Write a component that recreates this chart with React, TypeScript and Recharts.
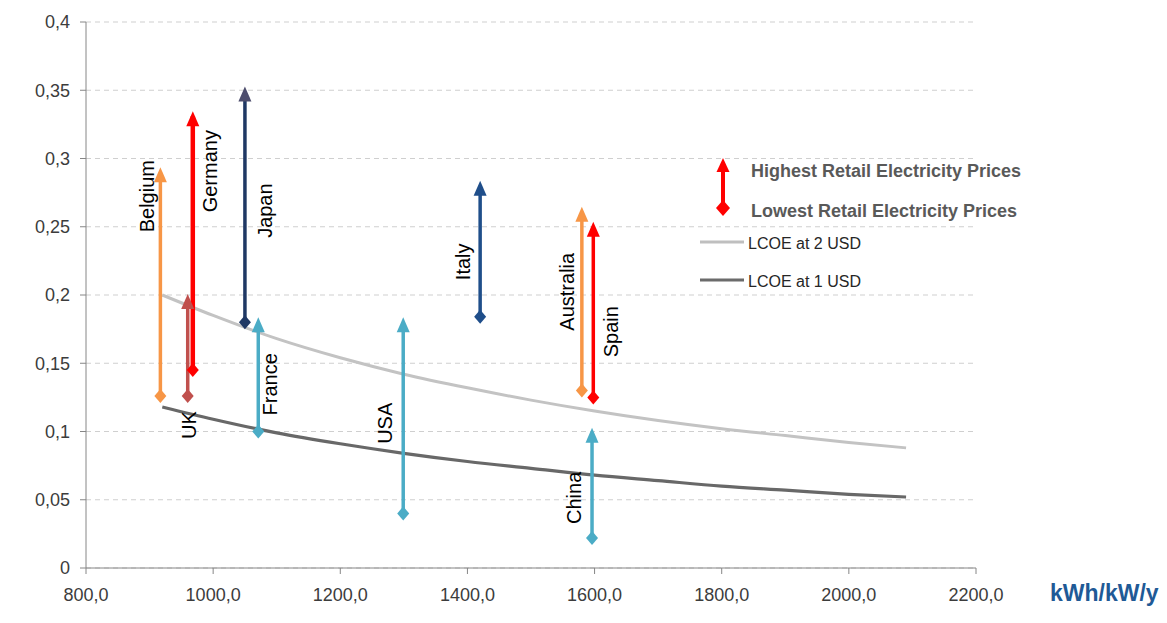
import { ComposedChart, Line, XAxis, YAxis, CartesianGrid, Legend, Label } from "recharts";

const xTicks = [800, 1000, 1200, 1400, 1600, 1800, 2000, 2200];
const yTicks = [0, 0.05, 0.1, 0.15, 0.2, 0.25, 0.3, 0.35, 0.4];

// LCOE curves (USD/kWh) against yield (kWh/kW/y)
const curveYield = [920, 1000, 1100, 1200, 1300, 1400, 1500, 1600, 1700, 1800, 1900, 2000, 2090];
const lcoe2Usd = [0.2, 0.185, 0.168, 0.154, 0.142, 0.132, 0.123, 0.115, 0.108, 0.102, 0.097, 0.092, 0.088];
const lcoe1Usd = [0.118, 0.109, 0.099, 0.091, 0.084, 0.078, 0.073, 0.068, 0.064, 0.06, 0.057, 0.054, 0.052];

// retail electricity price ranges per country
const countries = ["Belgium", "UK", "Germany", "Japan", "France", "USA", "Italy", "Australia", "Spain", "China"];
const countryYield = [917, 960, 968, 1050, 1071, 1299, 1420, 1580, 1598, 1596];
const lowestPrice = [0.126, 0.126, 0.145, 0.18, 0.1, 0.04, 0.184, 0.13, 0.125, 0.022];
const highestPrice = [0.29, 0.197, 0.331, 0.349, 0.18, 0.18, 0.28, 0.261, 0.25, 0.099];

const ORANGE = "#f79646";
const RED = "#ff0000";
const TEAL = "#4bacc6";

// look of each arrow: colour, head colour, label offset (px) from the top end
const arrowStyle: Record<string, { color: string; head?: string; dx: number; dy: number }> = {
  Belgium: { color: ORANGE, dx: -13, dy: 24 },
  UK: { color: "#c0504d", dx: 1, dy: 126 },
  Germany: { color: RED, dx: 17, dy: 55 },
  Japan: { color: "#1f3864", head: "#4d4d6d", dx: 20, dy: 119 },
  France: { color: TEAL, dx: 12, dy: 62 },
  USA: { color: TEAL, dx: -18, dy: 101 },
  Italy: { color: "#1f4e8a", dx: -17, dy: 76 },
  Australia: { color: ORANGE, dx: -15, dy: 80 },
  Spain: { color: RED, dx: 18, dy: 105 },
  China: { color: TEAL, dx: -18, dy: 65 },
};

const FONT = '"Liberation Sans", Arial, sans-serif';

const fmtX = (v: number) => v.toFixed(1).replace(".", ",");
const fmtY = (v: number) => (v === 0 ? "0" : String(Number(v.toFixed(2))).replace(".", ","));

function arrowDot(name: string) {
  const st = arrowStyle[name];
  return (props: any) => {
    const { cx, cy, index } = props;
    if (cx == null || cy == null) return <g key={`${name}-${index}`} />;
    if (index === 0) {
      return (
        <polygon
          key={`${name}-low`}
          points={`${cx},${cy - 7} ${cx + 6},${cy} ${cx},${cy + 7} ${cx - 6},${cy}`}
          fill={st.color}
        />
      );
    }
    const lx = cx + st.dx;
    const ly = cy + st.dy;
    return (
      <g key={`${name}-high`}>
        <polygon
          points={`${cx},${cy - 5} ${cx + 6.5},${cy + 10} ${cx - 6.5},${cy + 10}`}
          fill={st.head || st.color}
        />
        <text
          x={lx}
          y={ly}
          transform={`rotate(-90, ${lx}, ${ly})`}
          textAnchor="middle"
          dominantBaseline="central"
          fontFamily={FONT}
          fontSize={20}
          fill="#000"
        >
          {name}
        </text>
      </g>
    );
  };
}

function PriceLegend() {
  return (
    <svg width={340} height={140} style={{ display: "block", overflow: "visible" }}>
      <line x1={25} y1={14} x2={25} y2={50} stroke={RED} strokeWidth={4} />
      <polygon points="25,3 31.5,17 18.5,17" fill={RED} />
      <polygon points="25,45 32,53 25,61 18,53" fill={RED} />
      <text x={53} y={16} dominantBaseline="central" fontFamily={FONT} fontSize={18} fontWeight="bold" fill="#595959">
        Highest Retail Electricity Prices
      </text>
      <text x={53} y={56} dominantBaseline="central" fontFamily={FONT} fontSize={18} fontWeight="bold" fill="#595959">
        Lowest Retail Electricity Prices
      </text>
      <line x1={2} y1={87} x2={46} y2={87} stroke="#bfbfbf" strokeWidth={3} />
      <text x={50} y={88} dominantBaseline="central" fontFamily={FONT} fontSize={16} fill="#262626">
        LCOE at 2 USD
      </text>
      <line x1={2} y1={125} x2={46} y2={125} stroke="#6b6b6b" strokeWidth={3} />
      <text x={50} y={126} dominantBaseline="central" fontFamily={FONT} fontSize={16} fill="#262626">
        LCOE at 1 USD
      </text>
    </svg>
  );
}

function UnitLabel(props: any) {
  const vb = props.viewBox || {};
  return (
    <text
      x={vb.x + vb.width + 74}
      y={vb.y + 25}
      dominantBaseline="central"
      fontFamily={FONT}
      fontSize={23}
      fontWeight="bold"
      fill="#1f5a96"
    >
      kWh/kW/y
    </text>
  );
}

export default function App() {
  const lcoe2 = curveYield.map((x, i) => ({ x, y: lcoe2Usd[i] }));
  const lcoe1 = curveYield.map((x, i) => ({ x, y: lcoe1Usd[i] }));
  const tickStyle = { fontFamily: FONT, fontSize: 18, fill: "#3c3c3c" };

  return (
    <ComposedChart width={1159} height={615} margin={{ top: 14, right: 191, bottom: 25, left: 0 }}>
      <CartesianGrid vertical={false} stroke="#cfcfcf" strokeDasharray="5 4" />
      <XAxis
        type="number"
        dataKey="x"
        domain={[800, 2200]}
        ticks={xTicks}
        tickFormatter={fmtX}
        allowDataOverflow
        height={30}
        stroke="#868686"
        tickSize={6}
        tickMargin={14}
        tick={tickStyle}
      >
        <Label content={UnitLabel} />
      </XAxis>
      <YAxis
        type="number"
        domain={[0, 0.4]}
        ticks={yTicks}
        tickFormatter={fmtY}
        width={78}
        stroke="#868686"
        tickSize={6}
        tickMargin={10}
        tick={tickStyle}
      />
      <Legend
        layout="vertical"
        align="center"
        verticalAlign="middle"
        content={() => <PriceLegend />}
        wrapperStyle={{ left: 690, top: 147, width: 340 }}
      />
      <Line
        data={lcoe2}
        dataKey="y"
        type="monotone"
        stroke="#c3c3c3"
        strokeWidth={3}
        dot={false}
        activeDot={false}
        isAnimationActive={false}
      />
      <Line
        data={lcoe1}
        dataKey="y"
        type="monotone"
        stroke="#686868"
        strokeWidth={3.2}
        dot={false}
        activeDot={false}
        isAnimationActive={false}
      />
      {countries.map((name, i) => (
        <Line
          key={name}
          data={[
            { x: countryYield[i], y: lowestPrice[i] },
            { x: countryYield[i], y: highestPrice[i] },
          ]}
          dataKey="y"
          type="linear"
          stroke={arrowStyle[name].color}
          strokeWidth={name === "Germany" ? 4.5 : 3.5}
          dot={arrowDot(name)}
          activeDot={false}
          isAnimationActive={false}
        />
      ))}
    </ComposedChart>
  );
}
